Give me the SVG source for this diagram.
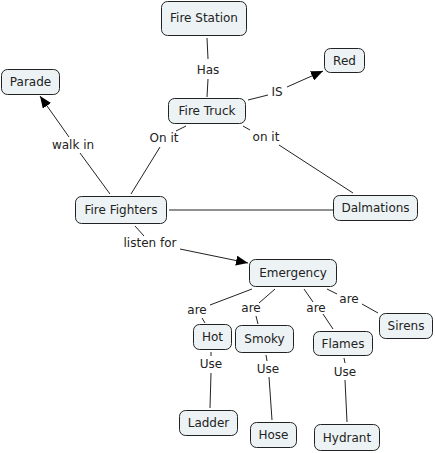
<svg xmlns="http://www.w3.org/2000/svg" width="435" height="453" viewBox="0 0 435 453">
<style>
.n rect{fill:#edf3f5;stroke:#222;stroke-width:1;}
text{font-family:"DejaVu Sans",Verdana,sans-serif;font-size:12px;fill:#222;text-anchor:middle;}
.c line{stroke:#222;stroke-width:1;}
</style>
<defs>
<marker id="ah" viewBox="0 0 12 10" refX="12" refY="5" markerWidth="12" markerHeight="10" markerUnits="userSpaceOnUse" orient="auto">
<path d="M0,0 L12,5 L0,10 Z" fill="#000"/>
</marker>
</defs>
<rect width="435" height="453" fill="#fff"/>
<g class="c" id="connectors">
<line x1="207" y1="38" x2="208" y2="59"/>
<line x1="208" y1="79" x2="207" y2="97"/>
<line x1="248" y1="100" x2="268" y2="95"/>
<line x1="287" y1="87" x2="323" y2="71" marker-end="url(#ah)"/>
<line x1="186" y1="126" x2="176" y2="131"/>
<line x1="160" y1="147" x2="131" y2="194"/>
<line x1="243" y1="126" x2="250" y2="130"/>
<line x1="279" y1="145" x2="353" y2="193"/>
<line x1="110" y1="194" x2="80" y2="153"/>
<line x1="69" y1="137" x2="40" y2="96" marker-end="url(#ah)"/>
<line x1="169" y1="210" x2="333" y2="210"/>
<line x1="135" y1="226" x2="144" y2="236"/>
<line x1="180" y1="249" x2="248" y2="263" marker-end="url(#ah)"/>
<line x1="252" y1="289" x2="210" y2="305"/>
<line x1="202" y1="318" x2="205" y2="323"/>
<line x1="275" y1="289" x2="259" y2="303"/>
<line x1="256" y1="316" x2="258" y2="324"/>
<line x1="304" y1="289" x2="313" y2="302"/>
<line x1="323" y1="314" x2="333" y2="329"/>
<line x1="327" y1="289" x2="337" y2="294"/>
<line x1="362" y1="304" x2="378" y2="313"/>
<line x1="211" y1="352" x2="211" y2="356"/>
<line x1="211" y1="373" x2="210" y2="408"/>
<line x1="266" y1="355" x2="267" y2="361"/>
<line x1="269" y1="377" x2="272" y2="420"/>
<line x1="344" y1="358" x2="345" y2="363"/>
<line x1="345" y1="380" x2="347" y2="422"/>
</g>
<g id="labels">
<text x="208" y="74">Has</text>
<text x="277" y="96">IS</text>
<text x="164" y="142">On it</text>
<text x="266" y="141">on it</text>
<text x="73" y="149">walk in</text>
<text x="150" y="247">listen for</text>
<text x="197" y="314">are</text>
<text x="251" y="312">are</text>
<text x="316" y="312">are</text>
<text x="349" y="303">are</text>
<text x="211" y="368">Use</text>
<text x="268" y="373">Use</text>
<text x="345" y="376">Use</text>
</g>
<g class="n" id="fire-station"><rect x="161.5" y="1.5" width="85" height="34" rx="6"/><text x="204" y="22">Fire Station</text></g>
<g class="n" id="parade"><rect x="1.5" y="69.5" width="58" height="25" rx="6"/><text x="30.5" y="86">Parade</text></g>
<g class="n" id="fire-truck"><rect x="168.5" y="98.5" width="77" height="25" rx="6"/><text x="207" y="115">Fire Truck</text></g>
<g class="n" id="red"><rect x="324.5" y="48.5" width="40" height="24" rx="6"/><text x="344.5" y="64.5">Red</text></g>
<g class="n" id="fire-fighters"><rect x="75.5" y="196.5" width="91" height="27" rx="6"/><text x="121" y="214">Fire Fighters</text></g>
<g class="n" id="dalmations"><rect x="333.5" y="195.5" width="84" height="25" rx="6"/><text x="375.5" y="212">Dalmations</text></g>
<g class="n" id="emergency"><rect x="249.5" y="259.5" width="87" height="27" rx="6"/><text x="293" y="276.5">Emergency</text></g>
<g class="n" id="hot"><rect x="193.5" y="324.5" width="38" height="25" rx="6"/><text x="212.5" y="341">Hot</text></g>
<g class="n" id="smoky"><rect x="235.5" y="325.5" width="58" height="27" rx="6"/><text x="264.5" y="342.5">Smoky</text></g>
<g class="n" id="flames"><rect x="313.5" y="331.5" width="59" height="24" rx="6"/><text x="343" y="347.5">Flames</text></g>
<g class="n" id="sirens"><rect x="379.5" y="313.5" width="53" height="25" rx="6"/><text x="406" y="330">Sirens</text></g>
<g class="n" id="ladder"><rect x="179.5" y="410.5" width="58" height="25" rx="6"/><text x="208.5" y="427">Ladder</text></g>
<g class="n" id="hose"><rect x="250.5" y="422.5" width="46" height="25" rx="6"/><text x="273.5" y="439">Hose</text></g>
<g class="n" id="hydrant"><rect x="314.5" y="424.5" width="65" height="26" rx="6"/><text x="347" y="441.5">Hydrant</text></g>
</svg>
